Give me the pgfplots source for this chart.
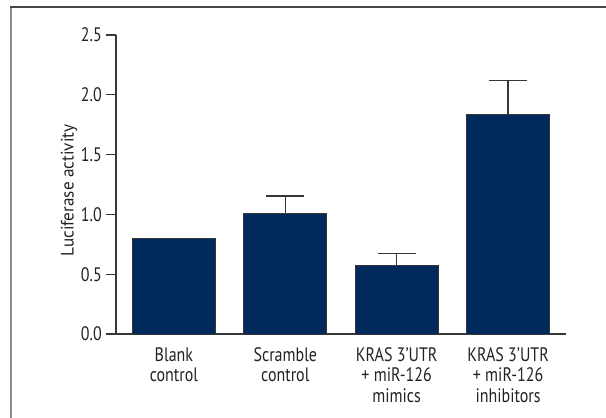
\documentclass[border=0pt]{standalone}
\usepackage{pgfplots}
\pgfplotsset{compat=1.18}
\usepackage{fontspec}
\setmainfont{PT Sans}[FakeStretch=0.82]
\newfontfamily\ylfont{PT Sans}[FakeStretch=0.95]
\definecolor{barblue}{RGB}{0,42,92}
\definecolor{txt}{RGB}{35,35,35}
\definecolor{axgray}{RGB}{55,55,55}
\definecolor{framel}{RGB}{140,140,140}
\definecolor{framet}{RGB}{70,70,70}
\begin{document}
\begin{tikzpicture}[x=1pt,y=1pt]
\useasboundingbox (0,0) rectangle (606,418);
\draw[framel, line width=2pt] (11,0) -- (11,411);
\draw[framet, line width=2pt] (10,411) -- (606,411);
\begin{axis}[
  at={(116pt,84pt)}, anchor=south west,
  scale only axis, width=450pt, height=299pt,
  xmin=-0.52, xmax=3.52, ymin=0, ymax=2.5,
  axis x line=bottom, axis y line=left,
  axis line style={-, axgray, line width=1.3pt},
  ytick={0,0.5,1,1.5,2,2.5},
  /pgf/number format/fixed, /pgf/number format/fixed zerofill,
  /pgf/number format/precision=1, /pgf/number format/assume math mode=true,
  yticklabel style={font=\fontsize{19.5}{21}\selectfont, text=txt, inner sep=0pt, xshift=-4pt},
  xtick={0,1,2,3},
  xticklabels={{Blank\\control},{Scramble\\control},{KRAS 3’UTR\\+ miR-126\\mimics},{KRAS 3’UTR\\+ miR-126\\inhibitors}},
  xticklabel style={align=center, font=\fontsize{19.5}{20.5}\selectfont, text=txt, inner sep=0pt, yshift=-3pt},
  x tick style={draw=none},
  y tick style={axgray, line width=1.3pt},
  tick align=outside, major tick length=10pt,
  ylabel={Luciferase activity},
  ylabel style={font=\ylfont\fontsize{18}{19}\selectfont, text=txt, xshift=-6pt},
  ybar, bar width=83pt,
  clip=false,
]
\addplot[bar shift=0pt, fill=barblue, draw=axgray, line width=0.8pt] coordinates {(0,0.80)};
\addplot[bar shift=0pt, fill=barblue, draw=axgray, line width=0.8pt,
  error bars/.cd, y dir=plus, y explicit,
  error bar style={axgray, line width=1.3pt},
  error mark options={rotate=90, mark size=19pt, line width=1.3pt, axgray}]
  coordinates {(1,1.005) +- (0,0.15) (2,0.576) +- (0,0.095) (3,1.835) +- (0,0.285)};
\end{axis}
\end{tikzpicture}
\end{document}
